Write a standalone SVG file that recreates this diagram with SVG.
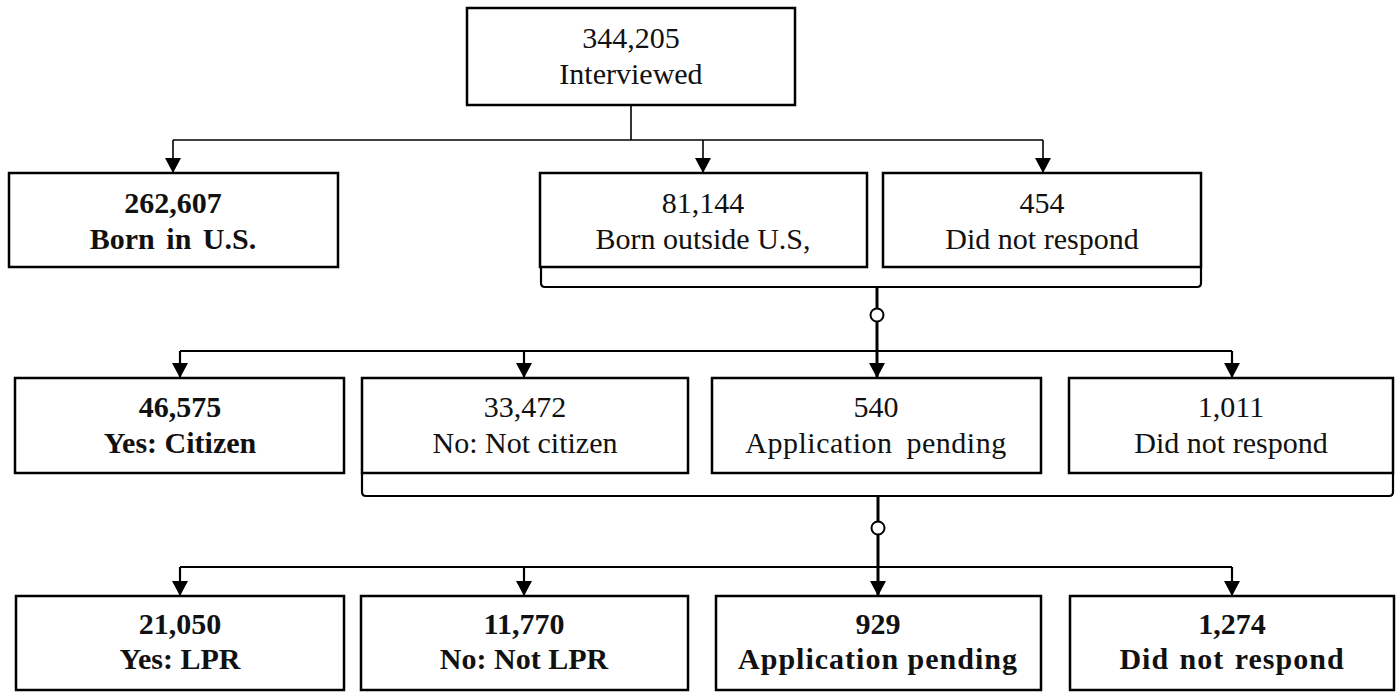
<svg xmlns="http://www.w3.org/2000/svg" width="1400" height="692" viewBox="0 0 1400 692">
<style>
.box{fill:#fff;stroke:#000;stroke-width:2.5}
.t{font-family:"Liberation Serif","Times New Roman",serif;font-size:30px;fill:#111;text-anchor:middle}
.b{font-weight:bold}
.thin{fill:none;stroke:#000;stroke-width:1.6}
.med{fill:none;stroke:#000;stroke-width:2.2}
.thick{fill:none;stroke:#000;stroke-width:3}
</style>
<defs>
<marker id="ah" markerUnits="userSpaceOnUse" markerWidth="15" markerHeight="16" refX="15" refY="8" orient="auto" viewBox="0 0 15 16">
<path d="M0,0 L15,8 L0,16 z" fill="#000"/>
</marker>
</defs>
<rect width="1400" height="692" fill="#fff"/>
<g id="connectors">
<path class="thin" d="M631,105 V140"/>
<path class="thin" d="M173,140 H1043"/>
<path class="thin" d="M173,140 V173" marker-end="url(#ah)"/>
<path class="thin" d="M703,140 V173" marker-end="url(#ah)"/>
<path class="thin" d="M1043,140 V173" marker-end="url(#ah)"/>
<path class="med" d="M541,267 V283 Q541,287 545,287 H1197 Q1201,287 1201,283 V267"/>
<path class="thick" d="M877,287 V378" marker-end="url(#ah)"/>
<circle cx="877" cy="315" r="6.5" fill="#fff" stroke="#000" stroke-width="2"/>
<path class="med" d="M180,351 H1232"/>
<path class="med" d="M180,351 V378" marker-end="url(#ah)"/>
<path class="med" d="M524,351 V378" marker-end="url(#ah)"/>
<path class="med" d="M1232,351 V378" marker-end="url(#ah)"/>
<path class="med" d="M362,473 V492 Q362,496 366,496 H1389 Q1393,496 1393,492 V473"/>
<path class="thick" d="M878,496 V596" marker-end="url(#ah)"/>
<circle cx="878" cy="528" r="6.5" fill="#fff" stroke="#000" stroke-width="2"/>
<path class="med" d="M180,567 H1232"/>
<path class="med" d="M180,567 V596" marker-end="url(#ah)"/>
<path class="med" d="M524,567 V596" marker-end="url(#ah)"/>
<path class="med" d="M1232,567 V596" marker-end="url(#ah)"/>
</g>
<g id="n-interviewed">
<rect class="box" x="467" y="8" width="328" height="97"/>
<text class="t" x="631" y="48">344,205</text>
<text class="t" x="631" y="84">Interviewed</text>
</g>
<g id="n-born-us">
<rect class="box" x="9" y="173" width="329" height="94"/>
<text class="t b" x="173" y="213">262,607</text>
<text class="t b" x="173" y="249" word-spacing="4">Born in U.S.</text>
</g>
<g id="n-born-outside">
<rect class="box" x="540" y="173" width="327" height="94"/>
<text class="t" x="703" y="213">81,144</text>
<text class="t" x="703" y="249">Born outside U.S,</text>
</g>
<g id="n-dnr1">
<rect class="box" x="883" y="173" width="318" height="94"/>
<text class="t" x="1042" y="213">454</text>
<text class="t" x="1042" y="249">Did not respond</text>
</g>
<g id="n-citizen">
<rect class="box" x="15" y="378" width="329" height="95"/>
<text class="t b" x="180" y="417">46,575</text>
<text class="t b" x="180" y="453">Yes: Citizen</text>
</g>
<g id="n-not-citizen">
<rect class="box" x="362" y="378" width="326" height="95"/>
<text class="t" x="525" y="417">33,472</text>
<text class="t" x="525" y="453">No: Not citizen</text>
</g>
<g id="n-pending1">
<rect class="box" x="712" y="378" width="329" height="95"/>
<text class="t" x="876" y="417">540</text>
<text class="t" x="876" y="453" letter-spacing="0.5" word-spacing="6">Application pending</text>
</g>
<g id="n-dnr2">
<rect class="box" x="1069" y="378" width="324" height="95"/>
<text class="t" x="1231" y="417">1,011</text>
<text class="t" x="1231" y="453">Did not respond</text>
</g>
<g id="n-lpr">
<rect class="box" x="16" y="596" width="328" height="94"/>
<text class="t b" x="180" y="634">21,050</text>
<text class="t b" x="180" y="669">Yes: LPR</text>
</g>
<g id="n-not-lpr">
<rect class="box" x="361" y="596" width="327" height="94"/>
<text class="t b" x="524" y="634">11,770</text>
<text class="t b" x="524" y="669">No: Not LPR</text>
</g>
<g id="n-pending2">
<rect class="box" x="716" y="596" width="325" height="94"/>
<text class="t b" x="878" y="634">929</text>
<text class="t b" x="878" y="669" letter-spacing="1">Application pending</text>
</g>
<g id="n-dnr3">
<rect class="box" x="1070" y="596" width="324" height="94"/>
<text class="t b" x="1232" y="634">1,274</text>
<text class="t b" x="1232" y="669" letter-spacing="1" word-spacing="2">Did not respond</text>
</g>
</svg>
